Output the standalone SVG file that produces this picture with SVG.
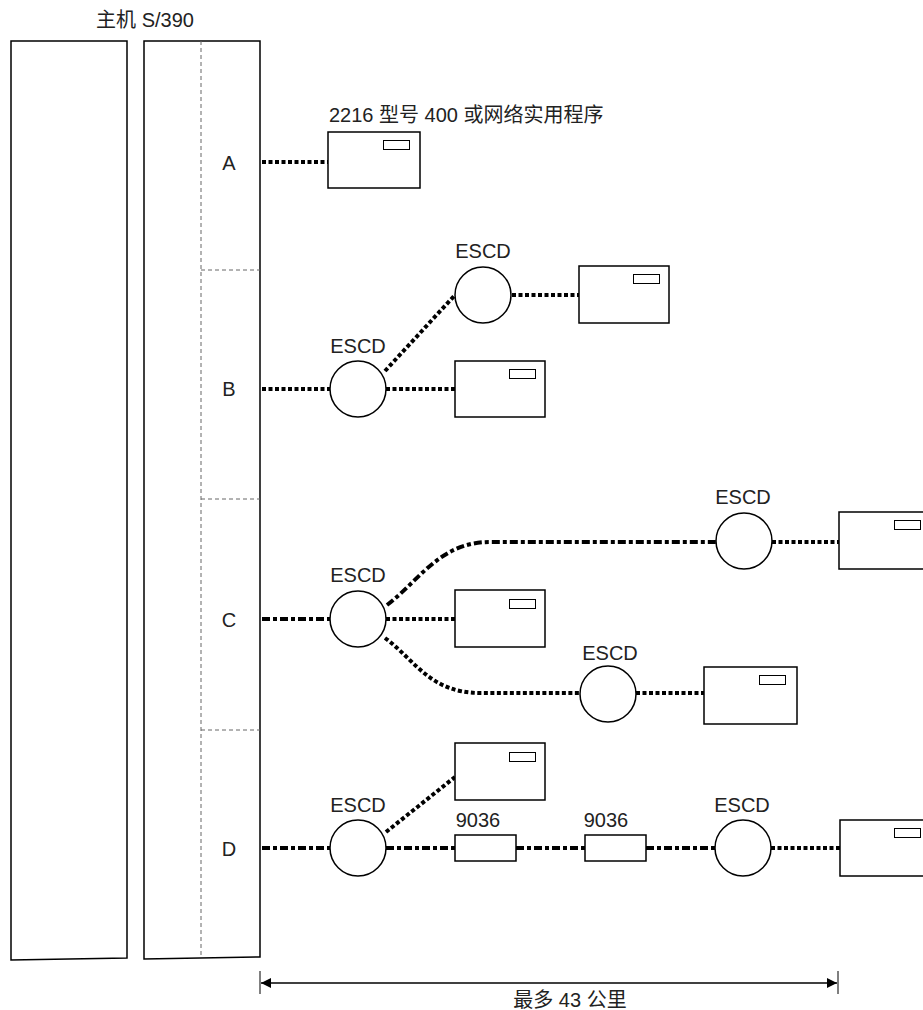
<svg xmlns="http://www.w3.org/2000/svg" width="923" height="1010" viewBox="0 0 923 1010">
<style>
text{font-family:"Liberation Sans","Noto Sans CJK SC",sans-serif;font-size:20px;fill:#222}
.box{fill:#fff;stroke:#000;stroke-width:1.5}
.win{fill:#fff;stroke:#000;stroke-width:1}
.sep{stroke:#666;stroke-width:1;stroke-dasharray:4 3;fill:none}
.dot{stroke:#000;stroke-width:4;stroke-dasharray:4 2.5;fill:none}
.dd{stroke:#000;stroke-width:4;stroke-dasharray:8 3 4 3;fill:none}
.esc{fill:#fff;stroke:#000;stroke-width:1.5}
</style>
<defs>
<marker id="ah" viewBox="0 0 10 10" refX="10" refY="5" markerWidth="16" markerHeight="10" markerUnits="userSpaceOnUse" orient="auto-start-reverse"><path d="M0,0 L10,5 L0,10 z" fill="#000"/></marker>
</defs>
<g id="host">
<text x="145" y="27" text-anchor="middle">主机 S/390</text>
<path class="box" d="M11,41 H127 V958 L11,960 Z"/>
<path class="box" d="M144,41 H260 V957 L144,959 Z"/>
<line class="sep" x1="201" y1="41" x2="201" y2="958"/>
<line class="sep" x1="201" y1="270" x2="260" y2="270"/>
<line class="sep" x1="201" y1="499" x2="260" y2="499"/>
<line class="sep" x1="201" y1="730" x2="260" y2="730"/>
<text x="229" y="170" text-anchor="middle">A</text>
<text x="229" y="396" text-anchor="middle">B</text>
<text x="229" y="627" text-anchor="middle">C</text>
<text x="229" y="856" text-anchor="middle">D</text>
</g>
<g id="connectors">
<line class="dot" x1="262" y1="162" x2="328" y2="162"/>
<line class="dot" x1="262" y1="389" x2="330" y2="389"/>
<line class="dot" x1="385" y1="371" x2="455" y2="295"/>
<line class="dot" x1="512" y1="295" x2="579" y2="295"/>
<line class="dot" x1="386" y1="389" x2="455" y2="389"/>
<line class="dd" x1="262" y1="619" x2="330" y2="619"/>
<path class="dd" d="M387,605 C420,580 440,542 490,542 L716,542"/>
<line class="dot" x1="772" y1="542" x2="840" y2="542"/>
<line class="dot" x1="386" y1="619" x2="455" y2="619"/>
<path class="dot" d="M385,638 C415,660 430,693 480,693 L580,693"/>
<line class="dot" x1="636" y1="693" x2="704" y2="693"/>
<line class="dd" x1="262" y1="848" x2="330" y2="848"/>
<line class="dot" x1="386" y1="832" x2="455" y2="777"/>
<line class="dd" x1="386" y1="848" x2="455" y2="848"/>
<line class="dd" x1="516" y1="848" x2="585" y2="848"/>
<line class="dd" x1="646" y1="848" x2="715" y2="848"/>
<line class="dot" x1="771" y1="848" x2="840" y2="848"/>
</g>
<g id="devA">
<text x="329" y="122">2216 型号 400 或网络实用程序</text>
<rect class="box" x="328" y="132" width="92" height="56"/>
<rect class="win" x="383.5" y="140.5" width="26" height="9"/>
</g>
<g id="escdB1">
<text x="358" y="353" text-anchor="middle">ESCD</text>
<circle class="esc" cx="358" cy="389" r="28"/>
</g>
<g id="escdB2">
<text x="483" y="258" text-anchor="middle">ESCD</text>
<circle class="esc" cx="483" cy="295" r="28"/>
</g>
<g id="devB1">
<rect class="box" x="579" y="266" width="90" height="57"/>
<rect class="win" x="633.5" y="274.5" width="26" height="9"/>
</g>
<g id="devB2">
<rect class="box" x="455" y="361" width="90" height="56"/>
<rect class="win" x="509.5" y="369.5" width="26" height="9"/>
</g>
<g id="escdC1">
<text x="358" y="582" text-anchor="middle">ESCD</text>
<circle class="esc" cx="358" cy="619" r="28"/>
</g>
<g id="devC1">
<rect class="box" x="455" y="590" width="90" height="57"/>
<rect class="win" x="509.5" y="599.5" width="26" height="9"/>
</g>
<g id="escdC2">
<text x="743" y="504" text-anchor="middle">ESCD</text>
<circle class="esc" cx="744" cy="541" r="28"/>
</g>
<g id="devC2">
<rect class="box" x="839" y="512" width="90" height="57"/>
<rect class="win" x="894.5" y="520.5" width="26" height="9"/>
</g>
<g id="escdC3">
<text x="610" y="660" text-anchor="middle">ESCD</text>
<circle class="esc" cx="608" cy="694" r="28"/>
</g>
<g id="devC3">
<rect class="box" x="704" y="667" width="93" height="57"/>
<rect class="win" x="759.5" y="675.5" width="26" height="9"/>
</g>
<g id="escdD1">
<text x="358" y="812" text-anchor="middle">ESCD</text>
<circle class="esc" cx="358" cy="848" r="28"/>
</g>
<g id="devD1">
<rect class="box" x="455" y="743" width="90" height="57"/>
<rect class="win" x="509.5" y="752.5" width="26" height="9"/>
</g>
<g id="conv1">
<text x="478" y="827" text-anchor="middle">9036</text>
<rect class="box" x="455" y="835" width="61" height="26"/>
</g>
<g id="conv2">
<text x="606" y="827" text-anchor="middle">9036</text>
<rect class="box" x="585" y="835" width="61" height="26"/>
</g>
<g id="escdD2">
<text x="742" y="812" text-anchor="middle">ESCD</text>
<circle class="esc" cx="743" cy="848" r="28"/>
</g>
<g id="devD2">
<rect class="box" x="840" y="820" width="90" height="56"/>
<rect class="win" x="894.5" y="828.5" width="26" height="9"/>
</g>
<g id="dimension">
<line x1="260" y1="971" x2="260" y2="994" stroke="#000" stroke-width="1"/>
<line x1="838" y1="971" x2="838" y2="994" stroke="#000" stroke-width="1"/>
<line x1="261" y1="983" x2="837" y2="983" stroke="#000" stroke-width="1.5" marker-start="url(#ah)" marker-end="url(#ah)"/>
<text x="570" y="1007" text-anchor="middle">最多 43 公里</text>
</g>
</svg>
